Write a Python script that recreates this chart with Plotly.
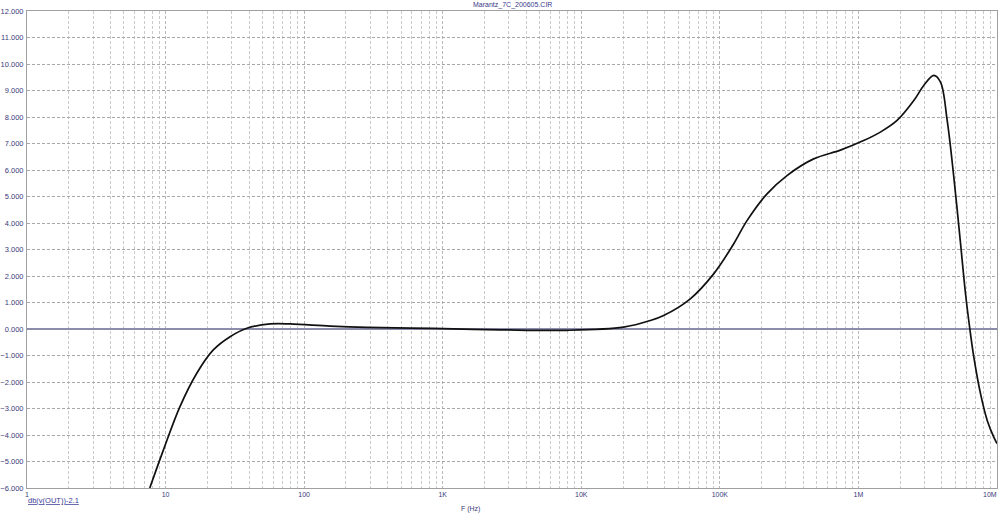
import plotly.graph_objects as go

# Frequency response
freq_hz = [7.69, 9.64, 12.7, 16.8, 22.1, 29.2, 38.6, 56.9, 79.3, 154, 284, 853,
           2600, 7890, 20200, 31500, 39300, 61200, 90200, 125700, 157000, 219000,
           305000, 475000, 741000, 1.09e6, 1.44e6, 1.90e6, 2.51e6, 2.96e6, 3.50e6,
           3.91e6, 4.37e6, 4.88e6, 5.46e6, 5.93e6, 6.37e6, 6.81e6, 7.61e6, 8.50e6,
           9.48e6, 1.0e7]
gain_db = [-6.0, -4.57, -2.93, -1.67, -0.79, -0.29, 0.03, 0.19, 0.19, 0.11, 0.06, 0.02,
           -0.03, -0.05, 0.07, 0.32, 0.51, 1.14, 2.08, 3.21, 4.09, 5.10,
           5.79, 6.42, 6.75, 7.11, 7.43, 7.87, 8.62, 9.19, 9.57,
           9.32, 7.87, 5.73, 3.21, 1.32, 0.0, -1.07, -2.45, -3.45,
           -4.08, -4.32]

x_tick_vals = [1, 10, 100, 1e3, 1e4, 1e5, 1e6, 1e7]
x_tick_text = ["1", "10", "100", "1K", "10K", "100K", "1M", "10M"]
y_tick_vals = list(range(-6, 13))

minor_vals = [m * 10 ** d for d in range(0, 7) for m in range(2, 10)]

fig = go.Figure()
fig.add_trace(go.Scatter(
    x=freq_hz, y=gain_db, mode="lines",
    line=dict(color="#111111", width=1.7, shape="spline", smoothing=1.0),
    showlegend=False, hoverinfo="skip", cliponaxis=True,
))

FAM = "Liberation Sans, Arial, sans-serif"
TXT = "#3a3a7a"

fig.update_layout(
    width=1000, height=517,
    margin=dict(l=27, r=3, t=11, b=29, autoexpand=False),
    paper_bgcolor="white", plot_bgcolor="white",
    font=dict(family=FAM, size=7, color=TXT),
    xaxis=dict(
        type="log", range=[0, 7], automargin=False,
        tickmode="array", tickvals=x_tick_vals, ticktext=x_tick_text,
        showgrid=True, gridcolor="#b8b8b8", griddash="3px,2px", gridwidth=1,
        minor=dict(tickmode="array", tickvals=minor_vals, showgrid=True,
                   gridcolor="#cacaca", griddash="3px,2px", gridwidth=1, ticklen=0),
        showline=True, linecolor="#a0a0a0", linewidth=1, mirror=True,
        ticks="", tickfont=dict(family=FAM, size=7, color=TXT),
        zeroline=False,
    ),
    yaxis=dict(
        range=[-6, 12], tickmode="array", tickvals=y_tick_vals, tickformat=".3f",
        automargin=False,
        showgrid=True, gridcolor="#a8a8a8", griddash="3px,2px", gridwidth=1,
        showline=True, linecolor="#a0a0a0", linewidth=1, mirror=True,
        zeroline=True, zerolinecolor="#8c8cac", zerolinewidth=1.5,
        ticks="", ticklabelstandoff=1,
        tickfont=dict(family=FAM, size=7.5, color=TXT),
    ),
    annotations=[
        dict(text="Marantz_7C_200605.CIR", x=0.5, xref="paper", y=1.0, yref="paper",
             yanchor="bottom", yshift=0, showarrow=False,
             font=dict(size=7, color="#3a3a8a", family=FAM)),
        dict(text="<u>db(v(OUT))-2.1</u>", x=0, xref="paper", xanchor="left",
             y=0, yref="paper", yanchor="top", yshift=-6, xshift=-1, showarrow=False,
             font=dict(size=7.5, color="#3a3a9a", family=FAM)),
        dict(text="F (Hz)", x=0.457, xref="paper", y=0, yref="paper", yanchor="top",
             yshift=-15, showarrow=False,
             font=dict(size=7, color=TXT, family=FAM)),
        # last x tick label, kept inside the page at the right edge
        dict(text=x_tick_text[-1], x=1.0, xref="paper", y=0, yref="paper",
             xanchor="right", yanchor="top", yshift=-1, xshift=2, showarrow=False,
             font=dict(size=7, color=TXT, family=FAM)),
    ],
)

fig.write_html("out.html", config={"displayModeBar": False},
               post_script="document.body.style.margin='0';document.body.style.padding='0';")
